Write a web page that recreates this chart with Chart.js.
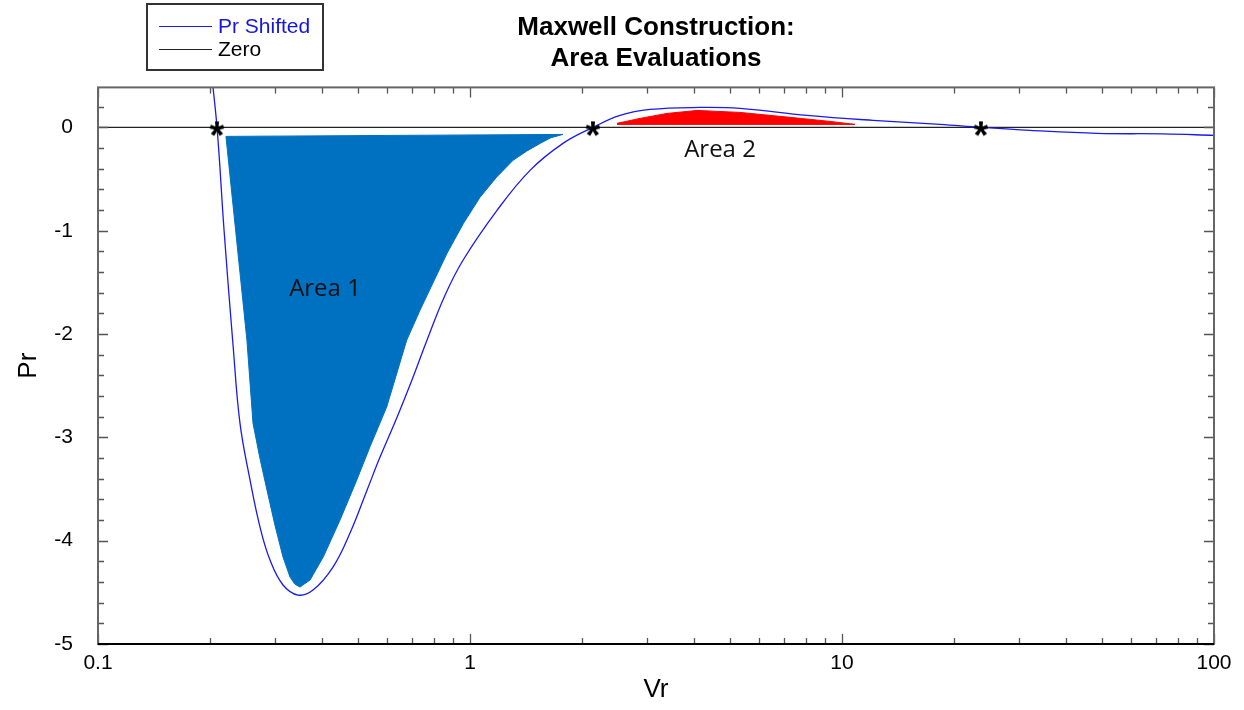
<!DOCTYPE html>
<html>
<head>
<meta charset="utf-8">
<script src="https://cdn.jsdelivr.net/npm/chart.js@4.4.1/dist/chart.umd.min.js"></script>
<style>
  html, body { margin: 0; padding: 0; background: #fff; }
  #wrap { width: 1244px; height: 710px; }
</style>
</head>
<body>
<div id="wrap"><canvas id="maxwell" width="1244" height="710"></canvas></div>
<script>
// Pr shifted curve (Vr, Pr)
const curveVr = [0.200, 0.2089, 0.2182, 0.2307, 0.2408, 0.2563, 0.2726, 0.2900, 0.3143, 0.3449, 0.3784, 0.4282, 0.4758, 0.5286, 0.5730, 0.6366, 0.7028, 0.7661, 0.8567, 0.9576, 1.182, 1.450, 1.778, 2.141, 2.531, 3.047, 4.153, 5.318, 8.054, 12.11, 18.34, 23.64, 32.02, 48.49, 72.94, 100];
const curvePr = [0.65, 0, -0.996, -2.108, -2.863, -3.414, -3.868, -4.188, -4.429, -4.526, -4.478, -4.255, -3.926, -3.511, -3.191, -2.805, -2.418, -2.060, -1.625, -1.286, -0.803, -0.416, -0.155, 0, 0.116, 0.174, 0.193, 0.184, 0.116, 0.068, 0.029, 0, -0.029, -0.058, -0.063, -0.077];

const zeroVr = [0.1, 100];
const zeroPr = [0, 0];

// roots marked with asterisks
const rootVr = [0.2089, 2.141, 23.64];
const rootPr = [0, 0, 0];

// shaded areas (outline, clockwise)
const area1Vr = [0.2208, 1.778, 1.650, 1.543, 1.420, 1.305, 1.180, 1.064, 0.960, 0.8674, 0.7338, 0.6758, 0.5971, 0.5385, 0.4960, 0.4472, 0.4035, 0.3715, 0.3491, 0.3380, 0.3282, 0.3143, 0.2990, 0.2846, 0.2720, 0.2610, 0.2514, 0.2208];
const area1Pr = [-0.087, -0.068, -0.100, -0.155, -0.230, -0.319, -0.480, -0.677, -0.930, -1.219, -1.770, -2.060, -2.706, -3.091, -3.414, -3.801, -4.156, -4.381, -4.449, -4.420, -4.352, -4.159, -3.850, -3.511, -3.190, -2.863, -2.060, -0.087];
const area2Vr = [2.484, 2.864, 3.385, 4.076, 5.318, 7.249, 9.284, 10.84, 2.484];
const area2Pr = [0.039, 0.087, 0.135, 0.164, 0.145, 0.097, 0.058, 0.029, 0.029];

const xTickVals = [0.1, 1, 10, 100];
const xTickLabels = ['0.1', '1', '10', '100'];
const yTickVals = [0, -1, -2, -3, -4, -5];

const areaLabels = ['Area 1', 'Area 2'];
const areaLabelVr = [0.4076, 4.70];
const areaLabelPr = [-1.567, -0.222];

const FONT = '"Liberation Sans", Arial, sans-serif';
const zip = (xs, ys) => xs.map((x, i) => ({ x, y: ys[i] }));

// asterisk marker drawn from the font glyph
function asteriskImage() {
  const c = document.createElement('canvas');
  c.width = 22; c.height = 22;
  const g = c.getContext('2d');
  g.font = 'bold 38px ' + FONT;
  g.fillStyle = '#000';
  const m = g.measureText('*');
  const w = m.actualBoundingBoxLeft + m.actualBoundingBoxRight;
  const h = m.actualBoundingBoxAscent + m.actualBoundingBoxDescent;
  g.textBaseline = 'alphabetic';
  g.fillText('*', 11 - w / 2 + m.actualBoundingBoxLeft, 11 - h / 2 + m.actualBoundingBoxAscent + 1);
  return c;
}

// frame + inward ticks on all four sides
const frameTicks = {
  id: 'frameTicks',
  afterDatasetsDraw(chart) {
    const { ctx, chartArea: a, scales: { x, y } } = chart;
    ctx.save();
    ctx.strokeStyle = '#555';
    ctx.lineWidth = 1.3;
    const xMinor = [];
    [0.1, 1, 10].forEach(d => { for (let k = 2; k <= 9; k++) xMinor.push(d * k); });
    ctx.beginPath();
    xMinor.forEach(v => {
      const px = Math.round(x.getPixelForValue(v)) + 0.5;
      ctx.moveTo(px, a.bottom); ctx.lineTo(px, a.bottom - 6);
      ctx.moveTo(px, a.top); ctx.lineTo(px, a.top + 6);
    });
    xTickVals.forEach(v => {
      const px = Math.round(x.getPixelForValue(v)) + 0.5;
      ctx.moveTo(px, a.bottom); ctx.lineTo(px, a.bottom - 10);
      ctx.moveTo(px, a.top); ctx.lineTo(px, a.top + 10);
    });
    for (let i = -25; i <= 1; i++) {
      const v = i / 5;
      const len = i % 5 === 0 ? 10 : 6;
      const py = Math.round(y.getPixelForValue(v)) + 0.5;
      ctx.moveTo(a.left, py); ctx.lineTo(a.left + len, py);
      ctx.moveTo(a.right, py); ctx.lineTo(a.right - len, py);
    }
    ctx.stroke();

    ctx.lineWidth = 2;
    ctx.strokeStyle = '#666';
    ctx.strokeRect(a.left, a.top, a.right - a.left, a.bottom - a.top);
    ctx.strokeStyle = '#000';
    ctx.beginPath();
    ctx.moveTo(a.left, a.bottom); ctx.lineTo(a.right, a.bottom);
    ctx.stroke();

    // area captions
    ctx.fillStyle = '#111';
    ctx.font = '24px "Open Sans", sans-serif';
    ctx.textAlign = 'center';
    ctx.textBaseline = 'middle';
    areaLabels.forEach((t, i) => {
      ctx.fillText(t, x.getPixelForValue(areaLabelVr[i]), y.getPixelForValue(areaLabelPr[i]));
    });
    ctx.restore();
  }
};

// boxed legend in the top-left corner
const boxLegend = {
  id: 'boxLegend',
  afterDraw(chart) {
    const { ctx } = chart;
    const items = chart.data.datasets.filter(d => d.inLegend);
    ctx.save();
    ctx.fillStyle = '#fff';
    ctx.fillRect(147, 4, 176, 66);
    ctx.strokeStyle = '#333';
    ctx.lineWidth = 2;
    ctx.strokeRect(147, 4, 176, 66);
    ctx.font = '21px ' + FONT;
    ctx.textBaseline = 'middle';
    ctx.textAlign = 'left';
    items.forEach((d, i) => {
      const yy = 26.5 + i * 23;
      ctx.strokeStyle = d.borderColor;
      ctx.lineWidth = 1.2;
      ctx.beginPath();
      ctx.moveTo(159, yy); ctx.lineTo(212, yy);
      ctx.stroke();
      ctx.fillStyle = d.legendText;
      ctx.fillText(d.label, 218, yy + 1);
    });
    ctx.restore();
  }
};

new Chart(document.getElementById('maxwell'), {
  type: 'scatter',
  data: {
    datasets: [
      {
        label: 'Roots', data: zip(rootVr, rootPr), order: 0,
        pointStyle: asteriskImage(), pointRadius: 6, showLine: false
      },
      {
        label: 'Pr Shifted', data: zip(curveVr, curvePr), order: 1, inLegend: true, legendText: '#1515e0',
        showLine: true, borderColor: '#1a1aee', borderWidth: 1.3, pointRadius: 0, tension: 0.4
      },
      {
        label: 'Zero', data: zip(zeroVr, zeroPr), order: 2, inLegend: true, legendText: '#000',
        showLine: true, borderColor: '#222', borderWidth: 1.2, pointRadius: 0
      },
      {
        label: 'Area 1', data: zip(area1Vr, area1Pr), order: 3,
        showLine: true, fill: 'shape', backgroundColor: '#0070c0', borderColor: '#0070c0', borderWidth: 1, pointRadius: 0, tension: 0
      },
      {
        label: 'Area 2', data: zip(area2Vr, area2Pr), order: 3,
        showLine: true, fill: 'shape', backgroundColor: '#ff0000', borderColor: '#ff0000', borderWidth: 1, pointRadius: 0, tension: 0
      }
    ]
  },
  options: {
    responsive: false,
    animation: false,
    layout: { padding: { left: 0, right: 30, top: 0, bottom: 0 } },
    plugins: {
      legend: { display: false },
      tooltip: { enabled: false },
      title: {
        display: true,
        fullSize: false,
        text: ['Maxwell Construction:', 'Area Evaluations'],
        color: '#000',
        font: { family: FONT, size: 26, weight: 'bold', lineHeight: 1.2 },
        padding: { top: 12, bottom: 13 }
      }
    },
    scales: {
      x: {
        type: 'logarithmic',
        min: 0.1, max: 100,
        afterBuildTicks: s => { s.ticks = xTickVals.map(v => ({ value: v })); },
        afterFit: s => { s.height = 66; },
        grid: { display: false, drawTicks: false },
        border: { display: false },
        ticks: {
          color: '#000', padding: 7,
          font: { family: FONT, size: 21 },
          callback: (v, i) => xTickLabels[i]
        },
        title: {
          display: true, text: 'Vr', color: '#000',
          font: { family: FONT, size: 26 },
          padding: { top: 0, bottom: 5 }
        }
      },
      y: {
        type: 'linear',
        min: -5, max: 0.387,
        afterBuildTicks: s => { s.ticks = yTickVals.map(v => ({ value: v })); },
        afterFit: s => { s.width = 98; },
        grid: { display: false, drawTicks: false },
        border: { display: false },
        ticks: {
          color: '#000', padding: 25,
          font: { family: FONT, size: 21 },
          callback: v => String(v)
        },
        title: {
          display: true, text: 'Pr', color: '#000',
          font: { family: FONT, size: 26 },
          padding: { top: 13, bottom: 0 }
        }
      }
    }
  },
  plugins: [frameTicks, boxLegend]
});
</script>
</body>
</html>
